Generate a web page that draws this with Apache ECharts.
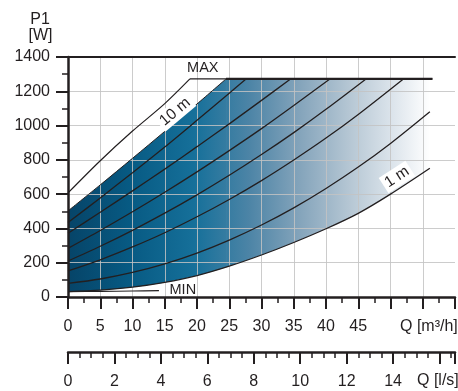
<!DOCTYPE html>
<html><head><meta charset="utf-8">
<script src="https://cdn.jsdelivr.net/npm/echarts@6/dist/echarts.min.js"></script>
<style>html,body{margin:0;padding:0;background:#fff}#c{width:458px;height:391px}</style>
</head><body><div id="c"></div>
<script>
// ---- data (Q in m3/h, P1 in W) ----
const maxPower = 1272;
const curve10m = [[0,502],[5,654],[10,809],[15,966],[20,1126],[24.5,1272]];
const curve2 = [[0,434],[5,578],[10,725],[15,875],[20,1031],[25,1189],[27.6,1272]];
const curve3 = [[0,372],[5,494],[10,619],[15,746],[20,877],[25,1010],[30,1147],[34.5,1272]];
const curve4 = [[0,284],[5,388],[10,497],[15,611],[20,730],[25,854],[30,982],[35,1117],[40.6,1272]];
const curve5 = [[0,210],[5,296],[10,389],[15,489],[20,596],[25,710],[30,831],[35,959],[40,1095],[46.2,1272]];
const curve6 = [[0,152],[5,217],[10,292],[15,375],[20,468],[25,569],[30,679],[35,799],[40,927],[45,1065],[52,1272]];
const curve7 = [[0,80],[5,105],[10,143],[15,193],[20,256],[25,332],[30,420],[35,520],[40,633],[45,758],[50,896],[56.1,1081]];
const curve1m = [[0,31],[5,40],[10,57],[15,85],[20,125],[25,180],[30,245],[35,318],[40,398],[45,488],[50,600],[56.1,751]];
const maxRise = [[0,607],[5,795],[10,968],[15,1128],[18.9,1272]];
const maxFlatEndQ = 56.5;
const minCurve = [[0,31],[5,33],[10,35],[14.1,37]];
const qTicksM3h = [0,5,10,15,20,25,30,35,40,45];
const qTicksLs = [0,2,4,6,8,10,12,14];
const pTicks = [0,200,400,600,800,1000,1200,1400];
const labels = {max:'MAX', min:'MIN', top:'10 m', bottom:'1 m'};

const FONT = '"Liberation Sans", Arial, Helvetica, sans-serif';
const INK = '#231f20';
const GRID = 'rgba(195,195,195,0.85)';
const SM = 0.3;

const chart = echarts.init(document.getElementById('c'), null, {renderer:'canvas'});

const flatTop = [[maxRise[maxRise.length-1][0], maxPower],[maxFlatEndQ, maxPower]];
const thickTop = [[curve10m[curve10m.length-1][0], maxPower],[maxFlatEndQ, maxPower]];
const fieldTopRight = [[curve10m[curve10m.length-1][0], maxPower],[curve1m[curve1m.length-1][0], maxPower]];

function blackLine(data, width, smooth){
  return {type:'line', xAxisIndex:0, yAxisIndex:0, data, smooth: smooth===undefined?SM:smooth,
    symbol:'none', lineStyle:{color:INK, width}, z:6, silent:true};
}
const tickLabelStyle = {fontSize:16, color:INK, fontFamily:FONT};

const option = {
  animation:false,
  textStyle:{fontFamily:FONT},
  grid:[{left:68, right:-2, top:57, bottom:94},{left:68, right:-2, top:351, height:1}],
  xAxis:[
    {gridIndex:0, type:'value', min:0, max:60, interval:5, position:'bottom', z:5,
     axisLine:{show:true, onZero:false, lineStyle:{color:INK, width:2.5}},
     axisTick:{show:true, length:12, lineStyle:{color:INK, width:2}},
     minorTick:{show:true, splitNumber:2, length:6, lineStyle:{color:INK, width:1.5}},
     axisLabel:Object.assign({margin:22, formatter:v=>qTicksM3h.includes(v)?String(v):''}, tickLabelStyle),
     splitLine:{show:true, showMinLine:false, showMaxLine:false, lineStyle:{color:GRID, width:1}},
     minorSplitLine:{show:false}},
    {gridIndex:0, type:'value', min:0, max:60, position:'top', z:5,
     axisLine:{show:true, onZero:false, lineStyle:{color:INK, width:2}},
     axisTick:{show:false}, axisLabel:{show:false}, splitLine:{show:false}},
    {gridIndex:1, type:'value', min:0, max:60/3.6, interval:2, position:'bottom', z:5,
     axisLine:{show:true, onZero:false, lineStyle:{color:INK, width:2.5}},
     axisTick:{show:true, length:12, lineStyle:{color:INK, width:2}},
     minorTick:{show:true, splitNumber:4, length:6, lineStyle:{color:INK, width:1.5}},
     axisLabel:Object.assign({margin:22, formatter:v=>qTicksLs.includes(v)?String(v):''}, tickLabelStyle),
     splitLine:{show:false}}
  ],
  yAxis:[
    {gridIndex:0, type:'value', min:0, max:1400, interval:200, z:5,
     axisLine:{show:true, onZero:false, lineStyle:{color:INK, width:2.5}},
     axisTick:{show:true, length:12, lineStyle:{color:INK, width:2}},
     minorTick:{show:true, splitNumber:2, length:6, lineStyle:{color:INK, width:1.5}},
     axisLabel:Object.assign({margin:18, formatter:v=>pTicks.includes(v)?String(v):''}, tickLabelStyle),
     splitLine:{show:true, showMinLine:false, showMaxLine:false, lineStyle:{color:GRID, width:1}}},
    {gridIndex:1, type:'value', show:false, min:0, max:1}
  ],
  series:[
    {id:'fieldA', type:'line', data:curve10m, smooth:SM, symbol:'none', lineStyle:{width:0}, areaStyle:{color:'#1a6e96', opacity:1}, z:2, silent:true},
    {id:'fieldB', type:'line', data:fieldTopRight, smooth:false, symbol:'none', lineStyle:{width:0}, areaStyle:{color:'#1a6e96', opacity:1}, z:2, silent:true},
    {id:'mask', type:'line', data:curve1m, smooth:SM, symbol:'none', lineStyle:{width:0}, areaStyle:{color:'#ffffff', opacity:1}, z:3, silent:true},
    blackLine(curve10m, 1),
    blackLine(curve2, 1.3),
    blackLine(curve3, 1.3),
    blackLine(curve4, 1.3),
    blackLine(curve5, 1.3),
    blackLine(curve6, 1.3),
    blackLine(curve7, 1.3),
    blackLine(curve1m, 1.3),
    blackLine(maxRise, 1.2),
    blackLine(flatTop, 1.2, false),
    blackLine(thickTop, 2.2, false),
    blackLine(minCurve, 1.1)
  ]
};
chart.setOption(option);

const px = (q,p)=>chart.convertToPixel({xAxisIndex:0, yAxisIndex:0},[q,p]);
const gx0 = px(0,0)[0], gx1 = px(curve1m[curve1m.length-1][0],0)[0];
const grad = new echarts.graphic.LinearGradient(gx0,0,gx1,0,[
  {offset:0, color:'#064468'},
  {offset:0.17, color:'#075a83'},
  {offset:0.35, color:'#16709a'},
  {offset:0.5, color:'#4c84a6'},
  {offset:0.64, color:'#84a4bb'},
  {offset:0.78, color:'#b6c7d4'},
  {offset:0.9, color:'#dde5ec'},
  {offset:1, color:'#ffffff'}
], true);

function txt(x, y, text, size, opts){
  opts = opts || {};
  return Object.assign({type:'text', x, y, z:20, rotation:opts.rot||0,
    style:Object.assign({text, fill:INK, font:size+'px '+FONT, fontSize:size, fontFamily:FONT,
      align:opts.align||'center', textAlign:opts.align||'center', verticalAlign:'middle', textVerticalAlign:'middle'},
      opts.bg?{backgroundColor:'#fff', padding:[1,3]}:{})});
}
const pMax = px(20.9,1336), pMin = px(17.8,41), pTop = px(16.6,1080), pBot = px(51,700);
chart.setOption({
  series:[{id:'fieldA', areaStyle:{color:grad}},{id:'fieldB', areaStyle:{color:grad}}],
  graphic:[
    txt(pMax[0], pMax[1], labels.max, 14.5),
    txt(pMin[0], pMin[1], labels.min, 14.5),
    txt(pTop[0], pTop[1], labels.top, 15.5, {rot:40*Math.PI/180, bg:true}),
    txt(pBot[0], pBot[1], labels.bottom, 15.5, {rot:33*Math.PI/180, bg:true}),
    txt(40, 20, 'P1', 16),
    txt(40.5, 36, '[W]', 16),
    txt(400, 327, 'Q [m³/h]', 16, {align:'left'}),
    txt(417, 381, 'Q [l/s]', 16, {align:'left'})
  ]
});
</script></body></html>
